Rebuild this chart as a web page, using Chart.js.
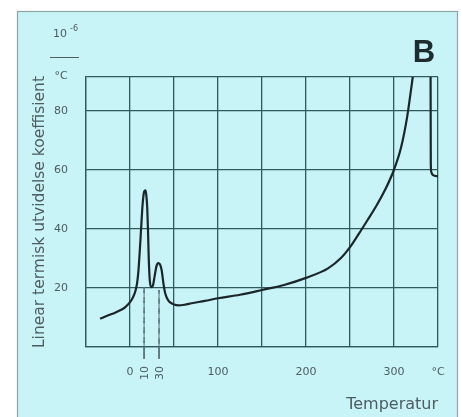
<!DOCTYPE html>
<html><head><meta charset="utf-8">
<script src="https://cdn.jsdelivr.net/npm/chart.js@4"></script>
<style>html,body{margin:0;padding:0;background:#fff;overflow:hidden}#wrap{width:461px;height:417px}</style>
</head><body><div id="wrap"><canvas id="c" width="461" height="417"></canvas></div>
<script>
// ---- data ----
const curveTemps  = [-34,-30,-24,-17,-10,-5,0,3,6,8,9.5,11,12,13,14,15,16,17.5,18.5,19.6,20.5,21.3,22.5,24,26,28,30,32,34,36,38,40,43,46,50,55,62,70,85,100,125,150,175,200,225,240,250,260,270,280,290,300,308,315,320,323,326,341.5,341.8,342.4,343.5,346,350];
const curveValues = [9.6,10.1,10.8,11.6,12.6,13.6,15.2,16.6,18.8,21.5,25.5,32,37,42,47,50.5,52.5,53,51.5,47,39,30,22.5,20.3,20.8,24,27.3,28.4,28,26,21.5,18.2,16,15,14.4,14.1,14.3,14.8,15.6,16.5,17.7,19.3,21,23.4,26.6,30.2,33.8,38.3,43,47.8,53.3,60,67.5,78,88.5,95,100,100,62,59.2,58.4,58,57.8];
const xTickValues = [-50,0,50,100,150,200,250,300,350];
const xTickLabels = ['','0','','100','','200','','300','°C'];
const yTickValues = [0,20,40,60,80,91.4];
const yTickLabels = ['','20','40','60','80',''];
const markerTemps  = [16,33];
const markerLabels = ['10','30'];
const markerTops   = [20.3,19.3];
const markerBottom = -4;
const yTitle = 'Linear termisk utvidelse koeffisient';
const xTitle = 'Temperatur';
const panelLetter = 'B';
const unitTop = '10';
const unitExp = '-6';
const unitBottom = '°C';

const FONT = "'DejaVu Sans',Verdana,sans-serif";
const GRID = '#2f5b5f';
const TXT = '#4d5e60';

const datasets = [{
  data: curveTemps.map((t,i)=>({x:t,y:curveValues[i]})),
  borderColor:'#1b2628', borderWidth:2.2, pointRadius:0,
  cubicInterpolationMode:'monotone', clip:0, order:0
}];
markerTemps.forEach((t,i)=>{
  datasets.push({
    data:[{x:t,y:markerTops[i]},{x:t,y:0},{x:t,y:markerBottom}],
    borderColor:'#556f72', borderWidth:1, pointRadius:0, clip:false,
    segment:{borderDash: ctx => ctx.p1.parsed.y < 0 ? [] : [6,4]}, order:1
  });
});

const bgPlugin = {
  id:'bg',
  beforeDraw(chart){
    const c = chart.ctx;
    c.save();
    c.fillStyle='#ffffff'; c.fillRect(0,0,461,417);
    c.fillStyle='#c8f3f7'; c.fillRect(17,11,441,420);
    c.strokeStyle='#8fa5a6'; c.lineWidth=1.2; c.strokeRect(17.5,11.5,440,420);
    c.restore();
  },
  afterDraw(chart){
    const c = chart.ctx, xs = chart.scales.x;
    c.save();
    c.fillStyle='#1e2c2e';
    c.font = "bold 31px 'Liberation Sans',Arial,sans-serif";
    c.textAlign='center'; c.textBaseline='alphabetic';
    c.fillText(panelLetter, 424, 62);
    c.fillStyle=TXT;
    c.textBaseline='middle'; c.textAlign='center';
    c.font = "11px "+FONT;
    c.fillText(unitTop, 60, 34);
    c.font = "8px "+FONT;
    c.fillText(unitExp, 74, 29);
    c.font = "11px "+FONT;
    c.fillText(unitBottom, 61, 76);
    c.strokeStyle=TXT; c.lineWidth=1;
    c.beginPath(); c.moveTo(50,57.5); c.lineTo(79,57.5); c.stroke();
    c.font = "11px "+FONT;
    markerTemps.forEach((t,i)=>{
      const px = xs.getPixelForValue(t);
      c.save(); c.translate(px+1,373); c.rotate(-Math.PI/2);
      c.textAlign='center'; c.textBaseline='middle';
      c.fillText(markerLabels[i],0,0);
      c.restore();
    });
    c.restore();
  }
};

new Chart(document.getElementById('c'), {
  type:'line',
  data:{datasets},
  options:{
    responsive:false, devicePixelRatio:1, animation:false,
    layout:{padding:{left:28,top:77,right:23,bottom:0}},
    plugins:{legend:{display:false},tooltip:{enabled:false}},
    scales:{
      x:{type:'linear', min:-50, max:350,
        afterBuildTicks:s=>{s.ticks=xTickValues.map(v=>({value:v}));},
        afterFit:s=>{s.height=70; s.paddingLeft=0; s.paddingRight=0;},
        grid:{color:GRID, lineWidth:1.3, drawTicks:false},
        border:{color:GRID, width:1.3},
        ticks:{autoSkip:false, maxRotation:0, padding:19, color:TXT,
          font:{family:FONT,size:11}, callback:(v,i)=>xTickLabels[i]},
        title:{display:true, text:xTitle, align:'end', color:TXT,
          font:{family:FONT,size:16}, padding:{top:4,bottom:3}}
      },
      y:{type:'linear', min:0, max:91.4,
        afterBuildTicks:s=>{s.ticks=yTickValues.map(v=>({value:v}));},
        afterFit:s=>{s.width=58;},
        grid:{color:GRID, lineWidth:1.3, drawTicks:false},
        border:{color:GRID, width:1.3},
        ticks:{autoSkip:false, padding:18, color:TXT,
          font:{family:FONT,size:11}, callback:(v,i)=>yTickLabels[i]},
        title:{display:true, text:yTitle, color:TXT,
          font:{family:FONT,size:15.5}, padding:{top:3,bottom:4}}
      }
    }
  },
  plugins:[bgPlugin]
});
</script></body></html>
